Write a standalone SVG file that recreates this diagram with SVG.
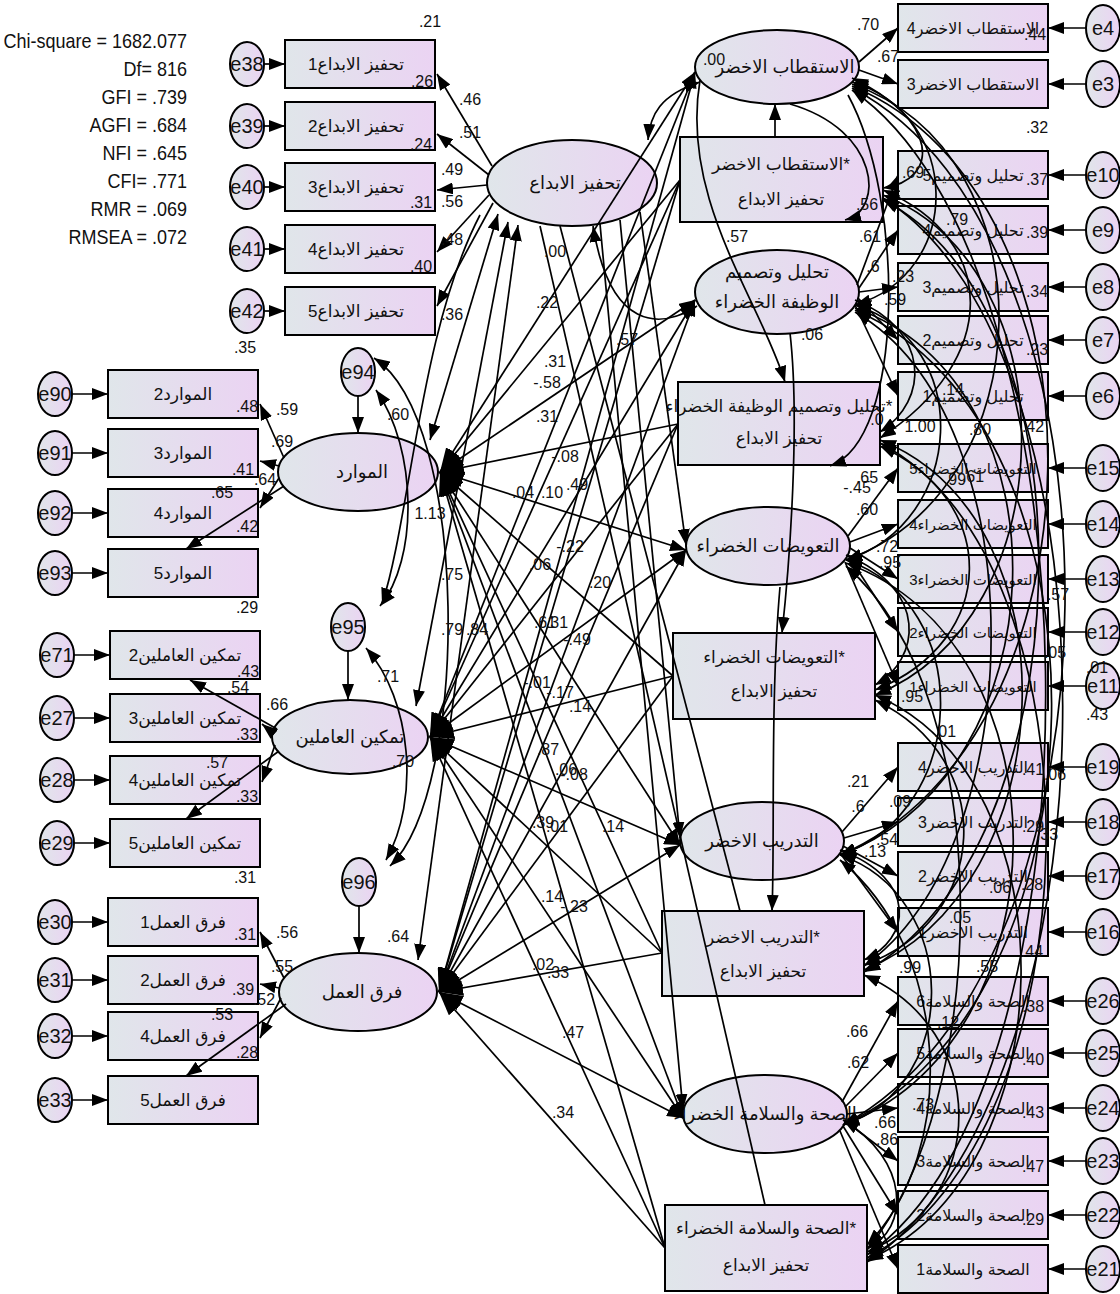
<svg xmlns="http://www.w3.org/2000/svg" width="1120" height="1294" viewBox="0 0 1120 1294">
<defs>
<linearGradient id="g" x1="0" y1="0" x2="1" y2="0"><stop offset="0" stop-color="#e0e6ea"/><stop offset="1" stop-color="#ebd3f3"/></linearGradient>
<marker id="a" viewBox="0 0 16 12" refX="16" refY="6" markerWidth="16" markerHeight="12" markerUnits="userSpaceOnUse" orient="auto-start-reverse"><path d="M0,0L16,6L0,12z" fill="#000"/></marker>
<marker id="b" viewBox="0 0 24 16" refX="24" refY="8" markerWidth="24" markerHeight="16" markerUnits="userSpaceOnUse" orient="auto-start-reverse"><path d="M0,0L24,8L0,16z" fill="#000"/></marker>
<style>
.nd{fill:url(#g);stroke:#000;stroke-width:2}
.ar{font-family:"Liberation Sans","DejaVu Sans",sans-serif;font-size:17px;text-anchor:middle;direction:rtl;fill:#111}
.ev{font-family:"Liberation Sans Narrow","Liberation Sans",sans-serif;font-size:20px;text-anchor:middle;fill:#111}
.nm{font-family:"Liberation Sans Narrow","Liberation Sans",sans-serif;font-size:16px;text-anchor:middle;fill:#111}
.fit{font-family:"Liberation Sans Narrow","Liberation Sans",sans-serif;font-size:20px;text-anchor:end;fill:#111}
.ln{stroke:#000;stroke-width:1.7;fill:none}
.ae{marker-end:url(#a)}
.as{marker-start:url(#a)}
.be{marker-end:url(#b)}
.bs{marker-start:url(#b)}
</style>
</defs>
<rect width="1120" height="1294" fill="#fff"/>

<g id="fit" transform="translate(187,0) scale(0.9,1)">
<text class="fit" x="0" y="48">Chi-square = 1682.077</text>
<text class="fit" x="0" y="76">Df= 816</text>
<text class="fit" x="0" y="104">GFI = .739</text>
<text class="fit" x="0" y="132">AGFI = .684</text>
<text class="fit" x="0" y="160">NFI = .645</text>
<text class="fit" x="0" y="188">CFI= .771</text>
<text class="fit" x="0" y="216">RMR = .069</text>
<text class="fit" x="0" y="244">RMSEA = .072</text>
</g>

<g id="e38"><ellipse class="nd" cx="247" cy="64" rx="17" ry="22"/><text class="ev" x="247" y="71">e38</text></g>
<g id="e39"><ellipse class="nd" cx="247" cy="126" rx="17" ry="22"/><text class="ev" x="247" y="133">e39</text></g>
<g id="e40"><ellipse class="nd" cx="247" cy="187" rx="17" ry="22"/><text class="ev" x="247" y="194">e40</text></g>
<g id="e41"><ellipse class="nd" cx="247" cy="249" rx="17" ry="22"/><text class="ev" x="247" y="256">e41</text></g>
<g id="e42"><ellipse class="nd" cx="247" cy="311" rx="17" ry="22"/><text class="ev" x="247" y="318">e42</text></g>
<g id="ti1"><rect class="nd" x="285" y="40" width="150" height="48"/><text class="ar" x="356" y="70">تحفيز الابداع1</text></g>
<g id="ti2"><rect class="nd" x="285" y="102" width="150" height="48"/><text class="ar" x="356" y="132">تحفيز الابداع2</text></g>
<g id="ti3"><rect class="nd" x="285" y="163" width="150" height="48"/><text class="ar" x="356" y="193">تحفيز الابداع3</text></g>
<g id="ti4"><rect class="nd" x="285" y="225" width="150" height="48"/><text class="ar" x="356" y="255">تحفيز الابداع4</text></g>
<g id="ti5"><rect class="nd" x="285" y="287" width="150" height="48"/><text class="ar" x="356" y="317">تحفيز الابداع5</text></g>

<g id="e90"><ellipse class="nd" cx="55" cy="394" rx="17" ry="22"/><text class="ev" x="55" y="401">e90</text></g>
<g id="e91"><ellipse class="nd" cx="55" cy="453" rx="17" ry="22"/><text class="ev" x="55" y="460">e91</text></g>
<g id="e92"><ellipse class="nd" cx="55" cy="513" rx="17" ry="22"/><text class="ev" x="55" y="520">e92</text></g>
<g id="e93"><ellipse class="nd" cx="55" cy="573" rx="17" ry="22"/><text class="ev" x="55" y="580">e93</text></g>
<g id="m2"><rect class="nd" x="108" y="370" width="150" height="48"/><text class="ar" x="183" y="400">الموارد2</text></g>
<g id="m3"><rect class="nd" x="108" y="429" width="150" height="48"/><text class="ar" x="183" y="459">الموارد3</text></g>
<g id="m4"><rect class="nd" x="108" y="489" width="150" height="48"/><text class="ar" x="183" y="519">الموارد4</text></g>
<g id="m5"><rect class="nd" x="108" y="549" width="150" height="48"/><text class="ar" x="183" y="579">الموارد5</text></g>

<g id="e71"><ellipse class="nd" cx="57" cy="655" rx="17" ry="22"/><text class="ev" x="57" y="662">e71</text></g>
<g id="e27"><ellipse class="nd" cx="57" cy="718" rx="17" ry="22"/><text class="ev" x="57" y="725">e27</text></g>
<g id="e28"><ellipse class="nd" cx="57" cy="780" rx="17" ry="22"/><text class="ev" x="57" y="787">e28</text></g>
<g id="e29"><ellipse class="nd" cx="57" cy="843" rx="17" ry="22"/><text class="ev" x="57" y="850">e29</text></g>
<g id="t2"><rect class="nd" x="110" y="631" width="150" height="48"/><text class="ar" x="185" y="661">تمكين العاملين2</text></g>
<g id="t3"><rect class="nd" x="110" y="694" width="150" height="48"/><text class="ar" x="185" y="724">تمكين العاملين3</text></g>
<g id="t4"><rect class="nd" x="110" y="756" width="150" height="48"/><text class="ar" x="185" y="786">تمكين العاملين4</text></g>
<g id="t5"><rect class="nd" x="110" y="819" width="150" height="48"/><text class="ar" x="185" y="849">تمكين العاملين5</text></g>

<g id="e30"><ellipse class="nd" cx="55" cy="922" rx="17" ry="22"/><text class="ev" x="55" y="929">e30</text></g>
<g id="e31"><ellipse class="nd" cx="55" cy="980" rx="17" ry="22"/><text class="ev" x="55" y="987">e31</text></g>
<g id="e32"><ellipse class="nd" cx="55" cy="1036" rx="17" ry="22"/><text class="ev" x="55" y="1043">e32</text></g>
<g id="e33"><ellipse class="nd" cx="55" cy="1100" rx="17" ry="22"/><text class="ev" x="55" y="1107">e33</text></g>
<g id="f1"><rect class="nd" x="108" y="898" width="150" height="48"/><text class="ar" x="183" y="928">فرق العمل1</text></g>
<g id="f2"><rect class="nd" x="108" y="956" width="150" height="48"/><text class="ar" x="183" y="986">فرق العمل2</text></g>
<g id="f4"><rect class="nd" x="108" y="1012" width="150" height="48"/><text class="ar" x="183" y="1042">فرق العمل4</text></g>
<g id="f5"><rect class="nd" x="108" y="1076" width="150" height="48"/><text class="ar" x="183" y="1106">فرق العمل5</text></g>

<g id="TA"><ellipse class="nd" cx="572" cy="183" rx="85" ry="43"/><text class="ar" x="575" y="189" style="font-size:18px">تحفيز الابداع</text></g>
<g id="M"><ellipse class="nd" cx="358" cy="472" rx="80" ry="39"/><text class="ar" x="362" y="478" style="font-size:18px">الموارد</text></g>
<g id="T"><ellipse class="nd" cx="350" cy="737" rx="78" ry="37"/><text class="ar" x="350" y="743" style="font-size:18px">تمكين العاملين</text></g>
<g id="F"><ellipse class="nd" cx="358" cy="992" rx="79" ry="39"/><text class="ar" x="362" y="998" style="font-size:18px">فرق العمل</text></g>
<g id="e94"><ellipse class="nd" cx="358" cy="372" rx="17" ry="24"/><text class="ev" x="358" y="379">e94</text></g>
<g id="e95"><ellipse class="nd" cx="348" cy="627" rx="17" ry="24"/><text class="ev" x="348" y="634">e95</text></g>
<g id="e96"><ellipse class="nd" cx="359" cy="882" rx="17" ry="24"/><text class="ev" x="359" y="889">e96</text></g>

<g id="A"><ellipse class="nd" cx="777" cy="67" rx="82" ry="37"/><text class="ar" x="785" y="73" style="font-size:18px">الاستقطاب الاخضر</text></g>
<g id="B"><ellipse class="nd" cx="777" cy="292" rx="82" ry="42"/><text class="ar" x="777" y="278" style="font-size:18px">تحليل وتصميم</text><text class="ar" x="777" y="308" style="font-size:18px">الوظيفة الخضراء</text></g>
<g id="C"><ellipse class="nd" cx="768" cy="546" rx="82" ry="39"/><text class="ar" x="768" y="552" style="font-size:18px">التعويضات الخضراء</text></g>
<g id="D"><ellipse class="nd" cx="762" cy="841" rx="82" ry="39"/><text class="ar" x="762" y="847" style="font-size:18px">التدريب الاخضر</text></g>
<g id="E"><ellipse class="nd" cx="765" cy="1114" rx="82" ry="39"/><text class="ar" x="765" y="1120" style="font-size:18px">الصحة والسلامة الخضراء</text></g>

<g id="R1"><rect class="nd" x="680" y="137" width="203" height="85"/><text class="ar" x="781" y="170">*الاستقطاب الاخضر</text><text class="ar" x="781" y="205">تحفيز الابداع</text></g>
<g id="R2"><rect class="nd" x="678" y="382" width="202" height="83"/><text class="ar" x="779" y="412">*تحليل وتصميم الوظيفة الخضراء</text><text class="ar" x="779" y="444">تحفيز الابداع</text></g>
<g id="R3"><rect class="nd" x="673" y="633" width="202" height="86"/><text class="ar" x="774" y="663">*التعويضات الخضراء</text><text class="ar" x="774" y="697">تحفيز الابداع</text></g>
<g id="R4"><rect class="nd" x="662" y="911" width="202" height="85"/><text class="ar" x="763" y="943">*التدريب الاخضر</text><text class="ar" x="763" y="977">تحفيز الابداع</text></g>
<g id="R5"><rect class="nd" x="665" y="1205" width="202" height="86"/><text class="ar" x="766" y="1234">*الصحة والسلامة الخضراء</text><text class="ar" x="766" y="1271">تحفيز الابداع</text></g>

<g id="ra4"><rect class="nd" x="898" y="4" width="150" height="48"/><text class="ar" x="973" y="34" style="font-size:16px">الاستقطاب الاخضر4</text></g>
<g id="ra3"><rect class="nd" x="898" y="60" width="150" height="48"/><text class="ar" x="973" y="90" style="font-size:16px">الاستقطاب الاخضر3</text></g>
<g id="rb5"><rect class="nd" x="898" y="151" width="150" height="48"/><text class="ar" x="973" y="181" style="font-size:16px">تحليل وتصميم5</text></g>
<g id="rb4"><rect class="nd" x="898" y="206" width="150" height="48"/><text class="ar" x="973" y="236" style="font-size:16px">تحليل وتصميم4</text></g>
<g id="rb3"><rect class="nd" x="898" y="263" width="150" height="48"/><text class="ar" x="973" y="293" style="font-size:16px">تحليل وتصميم3</text></g>
<g id="rb2"><rect class="nd" x="898" y="316" width="150" height="48"/><text class="ar" x="973" y="346" style="font-size:16px">تحليل وتصميم2</text></g>
<g id="rb1"><rect class="nd" x="898" y="372" width="150" height="48"/><text class="ar" x="973" y="402" style="font-size:16px">تحليل وتصميم1</text></g>
<g id="rc5"><rect class="nd" x="898" y="444" width="150" height="48"/><text class="ar" x="973" y="474" style="font-size:15px">التعويضات الخضراء5</text></g>
<g id="rc4"><rect class="nd" x="898" y="500" width="150" height="48"/><text class="ar" x="973" y="530" style="font-size:15px">التعويضات الخضراء4</text></g>
<g id="rc3"><rect class="nd" x="898" y="555" width="150" height="48"/><text class="ar" x="973" y="585" style="font-size:15px">التعويضات الخضراء3</text></g>
<g id="rc2"><rect class="nd" x="898" y="608" width="150" height="48"/><text class="ar" x="973" y="638" style="font-size:15px">التعويضات الخضراء2</text></g>
<g id="rc1"><rect class="nd" x="898" y="662" width="150" height="48"/><text class="ar" x="973" y="692" style="font-size:15px">التعويضات الخضراء1</text></g>
<g id="rd4"><rect class="nd" x="898" y="743" width="150" height="48"/><text class="ar" x="973" y="773" style="font-size:16px">التدريب الاخضر4</text></g>
<g id="rd3"><rect class="nd" x="898" y="798" width="150" height="48"/><text class="ar" x="973" y="828" style="font-size:16px">التدريب الاخضر3</text></g>
<g id="rd2"><rect class="nd" x="898" y="852" width="150" height="48"/><text class="ar" x="973" y="882" style="font-size:16px">التدريب الاخضر2</text></g>
<g id="rd1"><rect class="nd" x="898" y="908" width="150" height="48"/><text class="ar" x="973" y="938" style="font-size:16px">التدريب الاخضر1</text></g>
<g id="re6"><rect class="nd" x="898" y="977" width="150" height="48"/><text class="ar" x="973" y="1007" style="font-size:16px">الصحة والسلامة6</text></g>
<g id="re5"><rect class="nd" x="898" y="1029" width="150" height="48"/><text class="ar" x="973" y="1059" style="font-size:16px">الصحة والسلامة5</text></g>
<g id="re4"><rect class="nd" x="898" y="1084" width="150" height="48"/><text class="ar" x="973" y="1114" style="font-size:16px">الصحة والسلامة4</text></g>
<g id="re3"><rect class="nd" x="898" y="1137" width="150" height="48"/><text class="ar" x="973" y="1167" style="font-size:16px">الصحة والسلامة3</text></g>
<g id="re2"><rect class="nd" x="898" y="1191" width="150" height="48"/><text class="ar" x="973" y="1221" style="font-size:16px">الصحة والسلامة2</text></g>
<g id="re1"><rect class="nd" x="898" y="1245" width="150" height="48"/><text class="ar" x="973" y="1275" style="font-size:16px">الصحة والسلامة1</text></g>

<g id="e4"><ellipse class="nd" cx="1103" cy="28" rx="17" ry="23"/><text class="ev" x="1103" y="35">e4</text></g>
<g id="e3"><ellipse class="nd" cx="1103" cy="84" rx="17" ry="23"/><text class="ev" x="1103" y="91">e3</text></g>
<g id="e10"><ellipse class="nd" cx="1103" cy="175" rx="17" ry="23"/><text class="ev" x="1103" y="182">e10</text></g>
<g id="e9"><ellipse class="nd" cx="1103" cy="230" rx="17" ry="23"/><text class="ev" x="1103" y="237">e9</text></g>
<g id="e8"><ellipse class="nd" cx="1103" cy="287" rx="17" ry="23"/><text class="ev" x="1103" y="294">e8</text></g>
<g id="e7"><ellipse class="nd" cx="1103" cy="340" rx="17" ry="23"/><text class="ev" x="1103" y="347">e7</text></g>
<g id="e6"><ellipse class="nd" cx="1103" cy="396" rx="17" ry="23"/><text class="ev" x="1103" y="403">e6</text></g>
<g id="e15"><ellipse class="nd" cx="1103" cy="468" rx="17" ry="23"/><text class="ev" x="1103" y="475">e15</text></g>
<g id="e14"><ellipse class="nd" cx="1103" cy="524" rx="17" ry="23"/><text class="ev" x="1103" y="531">e14</text></g>
<g id="e13"><ellipse class="nd" cx="1103" cy="579" rx="17" ry="23"/><text class="ev" x="1103" y="586">e13</text></g>
<g id="e12"><ellipse class="nd" cx="1103" cy="632" rx="17" ry="23"/><text class="ev" x="1103" y="639">e12</text></g>
<g id="e11"><ellipse class="nd" cx="1103" cy="686" rx="17" ry="23"/><text class="ev" x="1103" y="693">e11</text></g>
<g id="e19"><ellipse class="nd" cx="1103" cy="767" rx="17" ry="23"/><text class="ev" x="1103" y="774">e19</text></g>
<g id="e18"><ellipse class="nd" cx="1103" cy="822" rx="17" ry="23"/><text class="ev" x="1103" y="829">e18</text></g>
<g id="e17"><ellipse class="nd" cx="1103" cy="876" rx="17" ry="23"/><text class="ev" x="1103" y="883">e17</text></g>
<g id="e16"><ellipse class="nd" cx="1103" cy="932" rx="17" ry="23"/><text class="ev" x="1103" y="939">e16</text></g>
<g id="e26"><ellipse class="nd" cx="1103" cy="1001" rx="17" ry="23"/><text class="ev" x="1103" y="1008">e26</text></g>
<g id="e25"><ellipse class="nd" cx="1103" cy="1053" rx="17" ry="23"/><text class="ev" x="1103" y="1060">e25</text></g>
<g id="e24"><ellipse class="nd" cx="1103" cy="1108" rx="17" ry="23"/><text class="ev" x="1103" y="1115">e24</text></g>
<g id="e23"><ellipse class="nd" cx="1103" cy="1161" rx="17" ry="23"/><text class="ev" x="1103" y="1168">e23</text></g>
<g id="e22"><ellipse class="nd" cx="1103" cy="1215" rx="17" ry="23"/><text class="ev" x="1103" y="1222">e22</text></g>
<g id="e21"><ellipse class="nd" cx="1103" cy="1269" rx="17" ry="23"/><text class="ev" x="1103" y="1276">e21</text></g>

<g id="connectors" class="ln">
<path class="ae" d="M264,64H285"/><path class="ae" d="M264,126H285"/><path class="ae" d="M264,187H285"/><path class="ae" d="M264,249H285"/><path class="ae" d="M264,311H285"/>
<path class="ae" d="M72,394H108"/><path class="ae" d="M72,453H108"/><path class="ae" d="M72,513H108"/><path class="ae" d="M72,573H108"/>
<path class="ae" d="M74,655H110"/><path class="ae" d="M74,718H110"/><path class="ae" d="M74,780H110"/><path class="ae" d="M74,843H110"/>
<path class="ae" d="M72,922H108"/><path class="ae" d="M72,980H108"/><path class="ae" d="M72,1036H108"/><path class="ae" d="M72,1100H108"/>
<path class="ae" d="M492,166L437,74"/><path class="ae" d="M489,175L437,134"/><path class="ae" d="M487,185L437,190"/><path class="ae" d="M489,195L437,252"/><path class="ae" d="M493,203L437,306"/>
<path class="ae" d="M284,458L260,404"/><path class="ae" d="M279,466L260,461"/><path class="ae" d="M279,478L260,508"/><path class="ae" d="M284,486L186,549"/>
<path class="ae" d="M277,729L190,680"/><path class="ae" d="M273,733L262,724"/><path class="ae" d="M275,745L262,782"/><path class="ae" d="M279,751L186,819"/>
<path class="ae" d="M284,978L260,932"/><path class="ae" d="M279,988L260,984"/><path class="ae" d="M281,998L260,1038"/><path class="ae" d="M286,1004L186,1076"/>
<path class="ae" d="M358,396V433"/><path class="ae" d="M348,651V700"/><path class="ae" d="M359,906V953"/>
<path class="as ae" d="M376,390C418,450 418,560 380,606"/>
<path class="as ae" d="M366,648C412,700 420,800 386,860"/>
<path class="as ae" d="M374,358C470,420 470,790 390,866"/>
<path class="ae" d="M480,215C420,330 410,520 382,604"/>
<path class="as ae" d="M498,214L430,440"/>
<path class="as ae" d="M508,222L416,706"/>
<path class="as ae" d="M518,225L418,960"/>
<path class="bs ae" d="M440,472L695,72"/><path class="bs ae" d="M440,472L695,300"/><path class="bs ae" d="M440,472L686,550"/><path class="bs ae" d="M440,472L680,845"/><path class="bs ae" d="M440,472L683,1118"/>
<path class="be" d="M680,180L440,472"/><path class="be" d="M678,424L440,472"/><path class="be" d="M673,676L440,472"/><path class="be" d="M662,953L440,472"/><path class="be" d="M665,1248L440,472"/>
<path class="bs ae" d="M430,737L695,72"/><path class="bs ae" d="M430,737L695,300"/><path class="bs ae" d="M430,737L686,550"/><path class="bs ae" d="M430,737L680,845"/><path class="bs ae" d="M430,737L683,1118"/>
<path class="be" d="M680,180L430,737"/><path class="be" d="M678,424L430,737"/><path class="be" d="M673,676L430,737"/><path class="be" d="M662,953L430,737"/><path class="be" d="M665,1248L430,737"/>
<path class="bs ae" d="M439,992L695,72"/><path class="bs ae" d="M439,992L695,300"/><path class="bs ae" d="M439,992L686,550"/><path class="bs ae" d="M439,992L680,845"/><path class="bs ae" d="M439,992L683,1118"/>
<path class="be" d="M680,180L439,992"/><path class="be" d="M678,424L439,992"/><path class="be" d="M673,676L439,992"/><path class="be" d="M662,953L439,992"/><path class="be" d="M665,1248L439,992"/>
<path class="as ae" d="M700,82C660,95 650,115 648,140"/>
<path class="as ae" d="M593,226C610,330 660,330 697,306"/>
<path class="ae" d="M640,212L686,545"/>
<path class="ae" d="M620,220L680,838"/>
<path class="ae" d="M600,224L683,1110"/>
<path d="M540,226L765,1205"/>
<path d="M560,226L740,911"/>
<path class="ae" d="M775,137V104"/>
<path class="ae" d="M700,80C680,200 760,300 785,382"/>
<path class="ae" d="M790,333C800,420 790,560 782,633"/>
<path class="ae" d="M780,587C770,700 775,840 772,911"/>
<path class="ae" d="M848,95C905,200 905,440 830,466"/>
<path class="ae" d="M790,104C880,130 885,210 845,220"/>
<path class="ae" d="M859,62L898,28"/><path class="ae" d="M859,70L898,84"/>
<path class="ae" d="M857,285L898,175"/><path class="ae" d="M859,288L898,230"/><path class="ae" d="M859,292L898,287"/><path class="ae" d="M858,298L898,340"/><path class="ae" d="M855,305L898,396"/>
<path class="ae" d="M848,536L898,468"/><path class="ae" d="M850,542L898,524"/><path class="ae" d="M850,548L898,579"/><path class="ae" d="M848,555L898,632"/><path class="ae" d="M845,562L898,686"/>
<path class="ae" d="M842,832L898,767"/><path class="ae" d="M844,838L898,822"/><path class="ae" d="M843,846L898,876"/><path class="ae" d="M840,853L898,932"/>
<path class="ae" d="M842,1102L898,1001"/><path class="ae" d="M845,1107L898,1053"/><path class="ae" d="M847,1114L898,1108"/><path class="ae" d="M845,1121L898,1161"/><path class="ae" d="M843,1126L898,1215"/><path class="ae" d="M840,1131L898,1269"/>
<path class="ae" d="M1086,28H1048"/><path class="ae" d="M1086,84H1048"/><path class="ae" d="M1086,175H1048"/><path class="ae" d="M1086,230H1048"/><path class="ae" d="M1086,287H1048"/><path class="ae" d="M1086,340H1048"/><path class="ae" d="M1086,396H1048"/>
<path class="ae" d="M1086,468H1048"/><path class="ae" d="M1086,524H1048"/><path class="ae" d="M1086,579H1048"/><path class="ae" d="M1086,632H1048"/><path class="ae" d="M1086,686H1048"/>
<path class="ae" d="M1086,767H1048"/><path class="ae" d="M1086,822H1048"/><path class="ae" d="M1086,876H1048"/><path class="ae" d="M1086,932H1048"/>
<path class="ae" d="M1086,1001H1048"/><path class="ae" d="M1086,1053H1048"/><path class="ae" d="M1086,1108H1048"/><path class="ae" d="M1086,1161H1048"/><path class="ae" d="M1086,1215H1048"/><path class="ae" d="M1086,1269H1048"/>
<path class="as ae" d="M852,82C962,115 965,272 855,305"/>
<path class="as ae" d="M852,84C1052,154 1046,488 846,560"/>
<path class="as ae" d="M852,86C1120,198 1110,739 840,855"/>
<path class="as ae" d="M852,88C1140,238 1135,969 843,1125"/>
<path class="as ae" d="M855,305C975,343 966,522 846,560"/>
<path class="as ae" d="M855,308C1075,388 1060,773 840,855"/>
<path class="as ae" d="M855,310C1125,428 1113,1002 843,1125"/>
<path class="as ae" d="M846,560C976,604 970,811 840,855"/>
<path class="as ae" d="M846,563C1071,645 1068,1040 843,1125"/>
<path class="as ae" d="M840,855C960,896 963,1085 843,1125"/>
<path class="as ae" d="M883,195C1073,270 1065,620 875,695"/>
<path class="as ae" d="M880,440C1080,520 1064,890 864,970"/>
<path class="as ae" d="M875,695C1075,780 1067,1175 867,1260"/>
<path class="as ae" d="M883,198C1133,355 1117,1100 867,1262"/>
<path class="as ae" d="M880,443C1110,563 1097,1137 867,1258"/>
<path class="as ae" d="M883,200C1103,311 1084,854 864,972"/>
<path class="as ae" d="M852,90C1100,259 1115,1083 867,1255"/>
<path class="as ae" d="M855,312C1040,420 1030,850 864,966"/>
<path class="as ae" d="M883,190C1000,240 1000,360 880,438"/>
<path class="as ae" d="M880,446C1000,500 1000,640 875,690"/>
<path class="as ae" d="M875,700C1000,760 990,920 864,965"/>
<path class="as ae" d="M864,975C990,1030 990,1200 867,1252"/>
<path class="as ae" d="M846,566C1000,700 990,1100 867,1250"/>
<path class="as ae" d="M840,860C950,950 960,1150 867,1245"/>
<path class="as ae" d="M852,78C940,120 940,180 883,188"/>
<path class="as ae" d="M855,300C930,330 930,400 880,432"/>
<path class="as ae" d="M846,555C930,590 920,660 875,685"/>
<path class="as ae" d="M840,850C920,880 910,940 864,960"/>
<path class="as ae" d="M843,1120C910,1160 910,1230 867,1248"/>
</g>

<g id="labels">
<text class="nm" x="430" y="27">.21</text>
<text class="nm" x="422" y="87">.26</text>
<text class="nm" x="470" y="105">.46</text>
<text class="nm" x="470" y="138">.51</text>
<text class="nm" x="421" y="150">.24</text>
<text class="nm" x="452" y="175">.49</text>
<text class="nm" x="452" y="207">.56</text>
<text class="nm" x="421" y="208">.31</text>
<text class="nm" x="452" y="245">.48</text>
<text class="nm" x="421" y="272">.40</text>
<text class="nm" x="452" y="320">.36</text>
<text class="nm" x="245" y="353">.35</text>
<text class="nm" x="555" y="257">.00</text>
<text class="nm" x="547" y="308">.22</text>
<text class="nm" x="627" y="345">.57</text>
<text class="nm" x="555" y="367">.31</text>
<text class="nm" x="547" y="388">-.58</text>
<text class="nm" x="547" y="422">.31</text>
<text class="nm" x="565" y="462">-.08</text>
<text class="nm" x="523" y="498">.04</text>
<text class="nm" x="552" y="498">.10</text>
<text class="nm" x="577" y="490">.49</text>
<text class="nm" x="570" y="552">-.22</text>
<text class="nm" x="540" y="570">.06</text>
<text class="nm" x="247" y="412">.48</text>
<text class="nm" x="287" y="415">.59</text>
<text class="nm" x="282" y="447">.69</text>
<text class="nm" x="243" y="475">.41</text>
<text class="nm" x="265" y="485">.64</text>
<text class="nm" x="222" y="498">.65</text>
<text class="nm" x="247" y="532">.42</text>
<text class="nm" x="247" y="613">.29</text>
<text class="nm" x="398" y="420">.60</text>
<text class="nm" x="430" y="519">1.13</text>
<text class="nm" x="452" y="580">.75</text>
<text class="nm" x="452" y="635">.79</text>
<text class="nm" x="477" y="635">.84</text>
<text class="nm" x="600" y="588">.20</text>
<text class="nm" x="545" y="628">.61</text>
<text class="nm" x="557" y="628">.31</text>
<text class="nm" x="577" y="645">-.49</text>
<text class="nm" x="537" y="688">-.01</text>
<text class="nm" x="560" y="698">-.17</text>
<text class="nm" x="580" y="712">.14</text>
<text class="nm" x="548" y="755">.87</text>
<text class="nm" x="566" y="775">.06</text>
<text class="nm" x="574" y="780">-.08</text>
<text class="nm" x="543" y="828">.39</text>
<text class="nm" x="557" y="832">.01</text>
<text class="nm" x="613" y="832">.14</text>
<text class="nm" x="388" y="682">.71</text>
<text class="nm" x="277" y="710">.66</text>
<text class="nm" x="238" y="693">.54</text>
<text class="nm" x="248" y="677">.43</text>
<text class="nm" x="247" y="740">.33</text>
<text class="nm" x="217" y="768">.57</text>
<text class="nm" x="247" y="802">.33</text>
<text class="nm" x="403" y="767">.70</text>
<text class="nm" x="245" y="883">.31</text>
<text class="nm" x="245" y="940">.31</text>
<text class="nm" x="287" y="938">.56</text>
<text class="nm" x="282" y="972">.55</text>
<text class="nm" x="243" y="995">.39</text>
<text class="nm" x="264" y="1005">.52</text>
<text class="nm" x="222" y="1020">.53</text>
<text class="nm" x="247" y="1058">.28</text>
<text class="nm" x="398" y="942">.64</text>
<text class="nm" x="552" y="902">.14</text>
<text class="nm" x="574" y="912">-.23</text>
<text class="nm" x="543" y="970">.02</text>
<text class="nm" x="558" y="978">.33</text>
<text class="nm" x="573" y="1038">.47</text>
<text class="nm" x="563" y="1118">.34</text>
<text class="nm" x="868" y="30">.70</text>
<text class="nm" x="888" y="62">.67</text>
<text class="nm" x="1035" y="40">.44</text>
<text class="nm" x="714" y="65">.00</text>
<text class="nm" x="1037" y="133">.32</text>
<text class="nm" x="867" y="210">.56</text>
<text class="nm" x="737" y="242">.57</text>
<text class="nm" x="870" y="242">.61</text>
<text class="nm" x="913" y="178">.69</text>
<text class="nm" x="1037" y="185">.37</text>
<text class="nm" x="957" y="225">.79</text>
<text class="nm" x="1037" y="238">.39</text>
<text class="nm" x="873" y="272">.6</text>
<text class="nm" x="903" y="282">.23</text>
<text class="nm" x="895" y="305">.59</text>
<text class="nm" x="1037" y="297">.34</text>
<text class="nm" x="812" y="340">.06</text>
<text class="nm" x="1037" y="355">.23</text>
<text class="nm" x="953" y="395">.14</text>
<text class="nm" x="877" y="425">.0</text>
<text class="nm" x="920" y="432">1.00</text>
<text class="nm" x="980" y="435">.80</text>
<text class="nm" x="1033" y="432">.42</text>
<text class="nm" x="867" y="483">.65</text>
<text class="nm" x="857" y="493">-.45</text>
<text class="nm" x="973" y="482">.61</text>
<text class="nm" x="955" y="485">.99</text>
<text class="nm" x="867" y="515">.60</text>
<text class="nm" x="887" y="552">.72</text>
<text class="nm" x="890" y="568">.95</text>
<text class="nm" x="1058" y="600">.57</text>
<text class="nm" x="1055" y="658">.05</text>
<text class="nm" x="1097" y="673">.01</text>
<text class="nm" x="912" y="702">.95</text>
<text class="nm" x="1097" y="720">.43</text>
<text class="nm" x="945" y="737">.01</text>
<text class="nm" x="858" y="787">.21</text>
<text class="nm" x="858" y="812">.6</text>
<text class="nm" x="900" y="807">.09</text>
<text class="nm" x="1033" y="775">.41</text>
<text class="nm" x="1055" y="780">.06</text>
<text class="nm" x="1033" y="832">.29</text>
<text class="nm" x="1047" y="840">.33</text>
<text class="nm" x="887" y="845">.54</text>
<text class="nm" x="875" y="857">.13</text>
<text class="nm" x="1032" y="890">.28</text>
<text class="nm" x="1000" y="893">.06</text>
<text class="nm" x="960" y="923">.05</text>
<text class="nm" x="1032" y="957">.44</text>
<text class="nm" x="910" y="973">.99</text>
<text class="nm" x="987" y="972">.55</text>
<text class="nm" x="857" y="1037">.66</text>
<text class="nm" x="858" y="1068">.62</text>
<text class="nm" x="1033" y="1012">.38</text>
<text class="nm" x="948" y="1028">.12</text>
<text class="nm" x="1033" y="1065">.40</text>
<text class="nm" x="923" y="1110">.73</text>
<text class="nm" x="1033" y="1118">.43</text>
<text class="nm" x="885" y="1128">.66</text>
<text class="nm" x="887" y="1145">.86</text>
<text class="nm" x="1033" y="1172">.47</text>
<text class="nm" x="1033" y="1225">.29</text>
</g>
</svg>
